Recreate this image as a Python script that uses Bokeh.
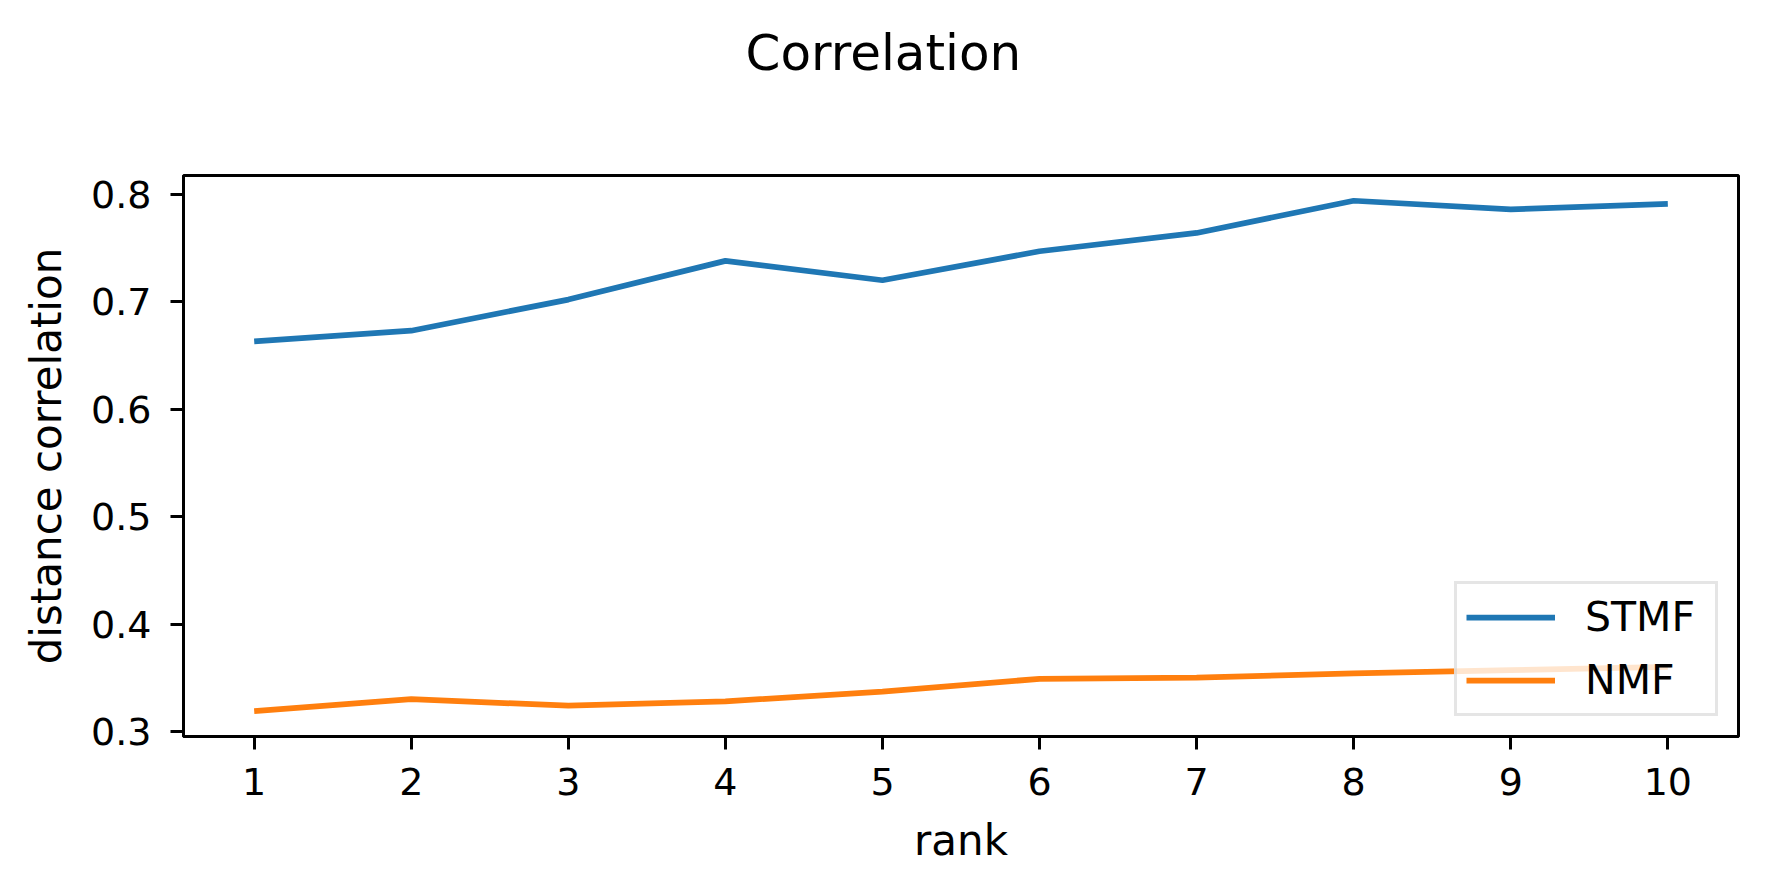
from bokeh.plotting import figure
from bokeh.models import Range1d, FixedTicker, Legend, Title
from bokeh.embed import file_html
from bokeh.resources import INLINE

rank = [1, 2, 3, 4, 5, 6, 7, 8, 9, 10]
stmf = [0.663, 0.673, 0.702, 0.738, 0.720, 0.747, 0.764, 0.794, 0.786, 0.791]
nmf = [0.319, 0.330, 0.324, 0.328, 0.337, 0.349, 0.350, 0.354, 0.357, 0.360]
x_ticks = [1, 2, 3, 4, 5, 6, 7, 8, 9, 10]
y_ticks = [0.3, 0.4, 0.5, 0.6, 0.7, 0.8]
title_text = "Correlation"

FONT = "DejaVu Sans"

p = figure(width=1751, height=877, output_backend="svg", toolbar_location=None,
           x_range=Range1d(0.55, 10.45), y_range=Range1d(0.2953, 0.8175),
           min_border_left=183, min_border_right=13, min_border_top=175, min_border_bottom=141)

p.xgrid.visible = False
p.ygrid.visible = False
p.outline_line_color = "black"
p.outline_line_width = 3
p.background_fill_color = "white"
p.border_fill_color = "white"

r1 = p.line(rank, stmf, line_color="#1f77b4", line_width=5.75)
r2 = p.line(rank, nmf, line_color="#ff7f0e", line_width=5.75)

for ax in (p.xaxis[0], p.yaxis[0]):
    ax.axis_line_color = "black"
    ax.axis_line_width = 3
    ax.major_tick_line_color = "black"
    ax.major_tick_line_width = 3
    ax.major_tick_out = 13
    ax.major_tick_in = 0
    ax.minor_tick_line_color = None
    ax.major_label_text_font = FONT
    ax.major_label_text_font_size = "38px"
    ax.major_label_text_color = "black"
    ax.axis_label_text_font = FONT
    ax.axis_label_text_font_size = "42px"
    ax.axis_label_text_font_style = "normal"
    ax.axis_label_text_color = "black"

p.xaxis[0].ticker = FixedTicker(ticks=x_ticks)
p.yaxis[0].ticker = FixedTicker(ticks=y_ticks)
p.xaxis[0].axis_label = "rank"
p.yaxis[0].axis_label = "distance correlation"
p.yaxis[0].major_label_standoff = 19
p.xaxis[0].major_label_standoff = 18
p.xaxis[0].axis_label_standoff = 18
p.yaxis[0].axis_label_standoff = 17

# spacer between frame and title (closest to the frame), then the title above it
spacer = Title(text=" ", text_font_size="1px", standoff=86)
p.add_layout(spacer, "above")
title = Title(text=title_text, align="left", offset=562, standoff=10,
              text_font=FONT, text_font_size="50px", text_font_style="normal",
              text_color="black")
p.add_layout(title, "above")

legend = Legend(items=[("STMF", [r1]), ("NMF", [r2])], location="bottom_right")
legend.margin = 20
legend.padding = 9
legend.spacing = 15
legend.glyph_width = 89
legend.glyph_height = 44
legend.label_height = 44
legend.label_width = 121
legend.label_standoff = 30
legend.label_text_font = FONT
legend.label_text_font_size = "41px"
legend.label_text_color = "black"
legend.border_line_color = "#cccccc"
legend.border_line_width = 3
legend.background_fill_color = "white"
legend.background_fill_alpha = 0.8
p.add_layout(legend)

open("out.html", "w").write(file_html(p, INLINE))
